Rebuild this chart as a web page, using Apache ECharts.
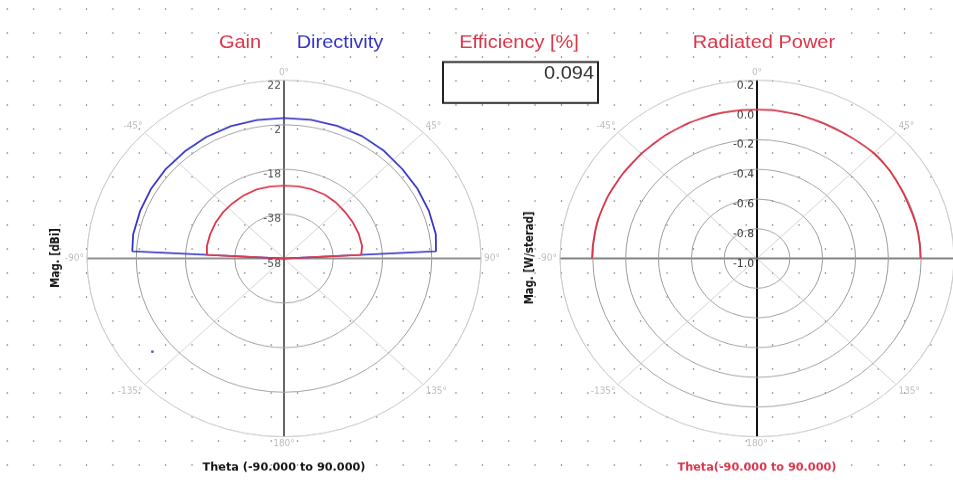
<!DOCTYPE html>
<html>
<head>
<meta charset="utf-8">
<title>Gain / Directivity / Radiated Power</title>
<script src="https://cdn.jsdelivr.net/npm/echarts@6/dist/echarts.min.js"></script>
<style>
    html, body {
        margin: 0;
        padding: 0;
        background: #fff;
    }
    /* dotted background, same pitch as the plot sheet */
    .sheet {
        position: relative;
        width: 953px;
        height: 482px;
        overflow: hidden;
        background-image: radial-gradient(ellipse 1.2px 1px at center, #9a9a9a 0, #9a9a9a 60%, rgba(255,255,255,0) 100%);
        background-size: 26.4px 24px;
        background-position: -5.9px -3px;
    }
    /* the original sheet is squashed vertically, circles show as ellipses */
    #chart {
        width: 953px;
        height: 533px;
        transform: scaleY(0.905);
        transform-origin: 0 0;
    }
</style>
</head>
<body>
<div class="sheet">
    <div id="chart"></div>
</div>
<script>
// theta (deg) for the dBi plot
const thetaDb = [-90, -87, -80, -70, -60, -50, -40, -30, -20, -10, 0, 10, 20, 30, 40, 50, 60, 70, 80, 87, 90]
// Directivity [dBi]
const directivity = [-58, 3.7, 4.2, 4.2, 4.4, 4.6, 4.7, 5.0, 5.2, 5.1, 5.0, 5.2, 5.3, 5.4, 5.1, 4.6, 4.6, 4.6, 4.6, 3.8, -58]
// Gain [dBi]
const gain = [-58, -26.7, -26.2, -26.1, -25.9, -25.7, -25.6, -25.3, -25.1, -25.2, -25.3, -25.1, -25.0, -24.9, -25.2, -25.6, -25.7, -25.7, -25.8, -26.6, -58]
// stray marker on the dBi plot [theta, dBi]
const strayMark = [-128, 9.8]

// theta (deg) for the radiated power plot
const thetaPw = [-90, -80, -70, -60, -50, -40, -30, -20, -10, 0, 10, 20, 30, 40, 50, 60, 70, 80, 90]
// Radiated Power [W/sterad]
const radPower = [0.005, 0.003, 0.0, -0.004, -0.006, -0.004, -0.001, 0.002, 0.003, 0.002, 0.0, -0.004, -0.006, 0.0, 0.004, -0.004, -0.008, -0.004, -0.004]

// radial ticks
const dbTicks = [-58, -38, -18, 2, 22]
const pwTicks = [-1.0, -0.8, -0.6, -0.4, -0.2, 0.0, 0.2]

const efficiency = '0.094'

const RED = '#dc3448'
const BLUE = '#3434c8'
const CY = 285.6   // center y in unscaled chart px
const RAD = 197

// theta -> angle axis value (0 at top, clockwise)
const toAngle = (t) => (t < 0 ? t + 360 : t)

const angleLabel = (v) => {
    let a = v > 180 ? v - 360 : v
    return a + '°'
}

// one polar for the rings/labels, another one for the dark cross
const polarPair = (cx) => [
    { center: [cx, CY], radius: RAD },
    { center: [cx, CY], radius: RAD }
]

const angleAxes = (polarIndex, crossColors) => [
    {
        polarIndex: polarIndex,
        type: 'value',
        min: 0,
        max: 360,
        interval: 45,
        startAngle: 90,
        clockwise: true,
        axisLine: { lineStyle: { color: '#cfcfcf', width: 1 } },
        axisTick: { show: false },
        axisLabel: {
            color: '#bdbdbd',
            fontSize: 10,
            margin: 3,
            fontFamily: 'DejaVu Sans Condensed',
            formatter: angleLabel
        },
        splitLine: { lineStyle: { color: '#cfcfcf', width: 1 } },
        z: 1
    },
    {
        polarIndex: polarIndex + 1,
        type: 'value',
        min: 0,
        max: 360,
        interval: 90,
        startAngle: 90,
        clockwise: true,
        axisLine: { show: false },
        axisTick: { show: false },
        axisLabel: { show: false },
        splitLine: { lineStyle: { color: crossColors, width: 2 } },
        z: 3
    }
]

const radiusAxes = (polarIndex, ticks, ringCount, labelColor, fmt) => [
    {
        polarIndex: polarIndex,
        type: 'value',
        min: ticks[0],
        max: ticks[ticks.length - 1],
        axisLine: { show: false },
        axisTick: { show: false, customValues: ticks },
        axisLabel: {
            customValues: ticks,
            color: labelColor,
            fontSize: 12,
            margin: 3,
            verticalAlign: 'top',
            fontFamily: 'DejaVu Sans Condensed',
            formatter: fmt
        },
        splitLine: {
            lineStyle: {
                // inner rings darker, outer one light
                color: ticks.map((t, i) => (i === ticks.length - 1 ? '#cfcfcf' : '#9c9c9c')),
                width: 1
            }
        },
        z: 4
    },
    {
        polarIndex: polarIndex + 1,
        type: 'value',
        min: 0,
        max: 1,
        show: false,
        splitLine: { show: false }
    }
]

const textEl = (x, y, text, font, color, align, rotation) => ({
    type: 'text',
    x: x,
    y: y,
    rotation: rotation || 0,
    z: 10,
    style: {
        text: text,
        font: font,
        fill: color,
        align: align || 'center',
        verticalAlign: 'middle'
    }
})

const TITLE_FONT = '20px "Liberation Sans", Arial, sans-serif'
const SMALL_FONT = 'bold 12.5px "DejaVu Sans Condensed", "DejaVu Sans", sans-serif'

const myChart = echarts.init(document.getElementById('chart'))
myChart.setOption({
    animation: false,
    polar: polarPair(284).concat(polarPair(757)),
    angleAxis: angleAxes(0, ['#666', '#8a8a8a']).concat(angleAxes(2, ['#111', '#7a7a7a'])),
    radiusAxis: radiusAxes(0, dbTicks, 4, '#555', (v) => String(v))
        .concat(radiusAxes(2, pwTicks, 6, '#333', (v) => (Math.abs(v) < 1e-9 ? '0.0' : v.toFixed(1)))),
    graphic: [
        textEl(240, 47.5, 'Gain', TITLE_FONT, RED),
        textEl(340, 47.5, 'Directivity', TITLE_FONT, BLUE),
        textEl(519, 47.5, 'Efficiency [%]', TITLE_FONT, RED),
        textEl(764, 47.5, 'Radiated Power', TITLE_FONT, RED),
        {
            type: 'rect',
            z: 10,
            shape: { x: 443, y: 68.5, width: 155, height: 45.3 },
            style: { fill: 'none', stroke: '#222', lineWidth: 2 }
        },
        textEl(594, 81.8, efficiency, TITLE_FONT, '#333', 'right'),
        textEl(56, 285, 'Mag. [dBi]', SMALL_FONT, '#111', 'center', Math.PI / 2),
        textEl(530, 285, 'Mag. [W/sterad]', SMALL_FONT, '#111', 'center', Math.PI / 2),
        textEl(284, 517, 'Theta (-90.000 to 90.000)', SMALL_FONT, '#111'),
        textEl(757, 517, 'Theta(-90.000 to 90.000)', SMALL_FONT, RED)
    ],
    series: [
        {
            name: 'Directivity',
            type: 'line',
            coordinateSystem: 'polar',
            polarIndex: 0,
            showSymbol: false,
            lineStyle: { color: BLUE, width: 1.8 },
            data: thetaDb.map((t, i) => [directivity[i], toAngle(t)]),
            z: 5
        },
        {
            name: 'Gain',
            type: 'line',
            coordinateSystem: 'polar',
            polarIndex: 0,
            showSymbol: false,
            lineStyle: { color: RED, width: 1.8 },
            data: thetaDb.map((t, i) => [gain[i], toAngle(t)]),
            z: 6
        },
        {
            name: 'mark',
            type: 'scatter',
            coordinateSystem: 'polar',
            polarIndex: 0,
            symbolSize: 3,
            itemStyle: { color: BLUE },
            data: [[strayMark[1], toAngle(strayMark[0])]],
            z: 6
        },
        {
            name: 'Radiated Power',
            type: 'line',
            coordinateSystem: 'polar',
            polarIndex: 2,
            showSymbol: false,
            smooth: true,
            lineStyle: { color: RED, width: 1.8 },
            data: thetaPw.map((t, i) => [radPower[i], toAngle(t)]),
            z: 5
        }
    ]
})
</script>
</body>
</html>
